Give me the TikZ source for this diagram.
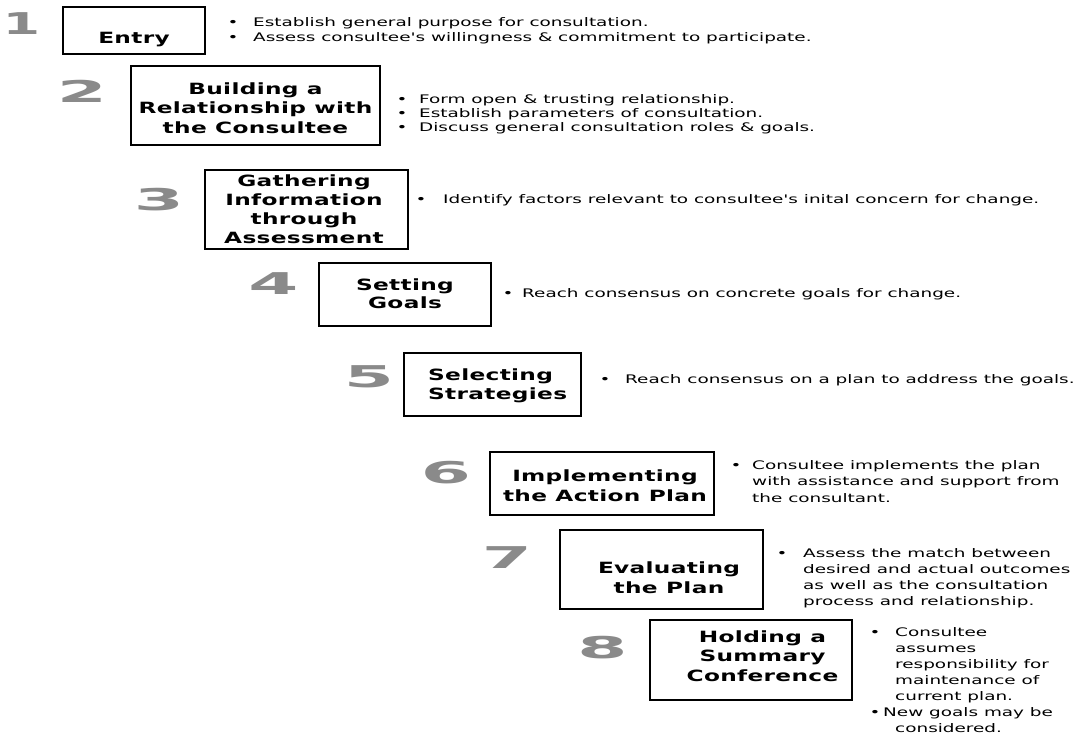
\documentclass[tikz,border=0pt]{standalone}
\usepackage{fontspec}
\newfontfamily\bodyfont[FakeStretch=1.56,Ligatures=TeXOff]{DejaVu Sans}
\newfontfamily\titlefont[FakeStretch=1.5,LetterSpace=2,Ligatures=TeXOff]{DejaVu Sans}
\newfontfamily\digitfont[FakeStretch=2.4]{DejaVu Sans}
\definecolor{digitgray}{RGB}{138,138,138}
% title text: #1 baselineskip, #2 column type, #3 lines
\newcommand\ttl[3]{{\fontsize{15.5}{#1}\selectfont\begin{tabular}[t]{@{}#2@{}}#3\end{tabular}}}
% bullet notes: #1 baselineskip, #2 bullet column width, #3 rows
\newcommand\nts[3]{{\fontsize{11.8}{#1}\selectfont\begin{tabular}[t]{@{}p{#2}@{}l@{}}#3\end{tabular}}}
\begin{document}
\begin{tikzpicture}[x=1pt,y=-1pt,
  stepbox/.style={draw=black, line width=1.2pt, inner sep=0pt},
  num/.style={text=digitgray, font=\digitfont\bfseries\fontsize{30}{30}\selectfont, inner sep=0pt, anchor=center},
  title/.style={font=\titlefont\bfseries, inner sep=0pt, anchor=base},
  note/.style={font=\bodyfont, inner sep=0pt, anchor=base west}]
\useasboundingbox (0,0) rectangle (1082,736);
\fill[white] (0,0) rectangle (1082,736);

% boxes
\node[stepbox, minimum width=142pt, minimum height=47pt] (b1) at (134,30.5) {};
\node[stepbox, minimum width=249pt, minimum height=79pt] (b2) at (255.5,105.5) {};
\node[stepbox, minimum width=203pt, minimum height=79pt] (b3) at (306.5,209.5) {};
\node[stepbox, minimum width=172pt, minimum height=63pt] (b4) at (405,294.5) {};
\node[stepbox, minimum width=177pt, minimum height=63pt] (b5) at (492.5,384.5) {};
\node[stepbox, minimum width=224pt, minimum height=63pt] (b6) at (602,483.5) {};
\node[stepbox, minimum width=203pt, minimum height=79pt] (b7) at (661.5,569.5) {};
\node[stepbox, minimum width=202pt, minimum height=80pt] (b8) at (751,660) {};

% numbers
\node[num] (d1) at (21.5,23.5) {\scalebox{0.75}[1]{1}};
\node[num] (d2) at (82,91) {2};
\node[num] (d3) at (159,200) {3};
\node[num] (d4) at (273.5,284) {4};
\node[num] (d5) at (369,377) {5};
\node[num] (d6) at (446,473) {6};
\node[num] (d7) at (507,558) {7};
\node[num] (d8) at (602.5,648) {8};

% titles
\node[title] (t1) at (134,43) {\ttl{19}{c}{Entry}};
\node[title] (t2) at (255.5,94) {\ttl{19.5}{c}{Building a\\Relationship with\\the Consultee}};
\node[title] (t3) at (304,186) {\ttl{19}{c}{Gathering\\Information\\through\\Assessment}};
\node[title] (t4) at (405,290) {\ttl{18.5}{c}{Setting\\Goals}};
\node[title, anchor=base west] (t5) at (428,380) {\ttl{19}{l}{Selecting\\Strategies}};
\node[title] (t6) at (605,481) {\ttl{20}{c}{Implementing\\the Action Plan}};
\node[title] (t7) at (669,573) {\ttl{20}{c}{Evaluating\\the Plan}};
\node[title] (t8) at (762.5,642) {\ttl{19.5}{c}{Holding a\\Summary\\Conference}};

% notes
\node[note] (n1) at (227.5,26) {\nts{15}{25.5pt}{\textbullet & Establish general purpose for consultation.\\
  \textbullet & Assess consultee's willingness \& commitment to participate.}};
\node[note] (n2) at (396.5,103) {\nts{14}{22.5pt}{\textbullet & Form open \& trusting relationship.\\
  \textbullet & Establish parameters of consultation.\\
  \textbullet & Discuss general consultation roles \& goals.}};
\node[note] (n3) at (415.5,203) {\nts{15}{27.5pt}{\textbullet & Identify factors relevant to consultee's inital concern for change.}};
\node[note] (n4) at (502.5,297) {\nts{15}{19.5pt}{\textbullet & Reach consensus on concrete goals for change.}};
\node[note] (n5) at (599.5,383) {\nts{15}{25.5pt}{\textbullet & Reach consensus on a plan to address the goals.}};
\node[note] (n6) at (730.5,469) {\nts{16.5}{21.5pt}{\textbullet & Consultee implements the plan\\
  & with assistance and support from\\
  & the consultant.}};
\node[note] (n7) at (776.5,557) {\nts{16}{26.5pt}{\textbullet & Assess the match between\\
  & desired and actual outcomes\\
  & as well as the consultation\\
  & process and relationship.}};
\node[note] (n8) at (869.5,636) {\nts{16}{25.5pt}{\textbullet & Consultee\\
  & assumes\\
  & responsibility for\\
  & maintenance of\\
  & current plan.\\
  \multicolumn{2}{@{}l@{}}{\makebox[13.5pt][l]{\textbullet}New goals may be}\\
  & considered.}};
\end{tikzpicture}
\end{document}
